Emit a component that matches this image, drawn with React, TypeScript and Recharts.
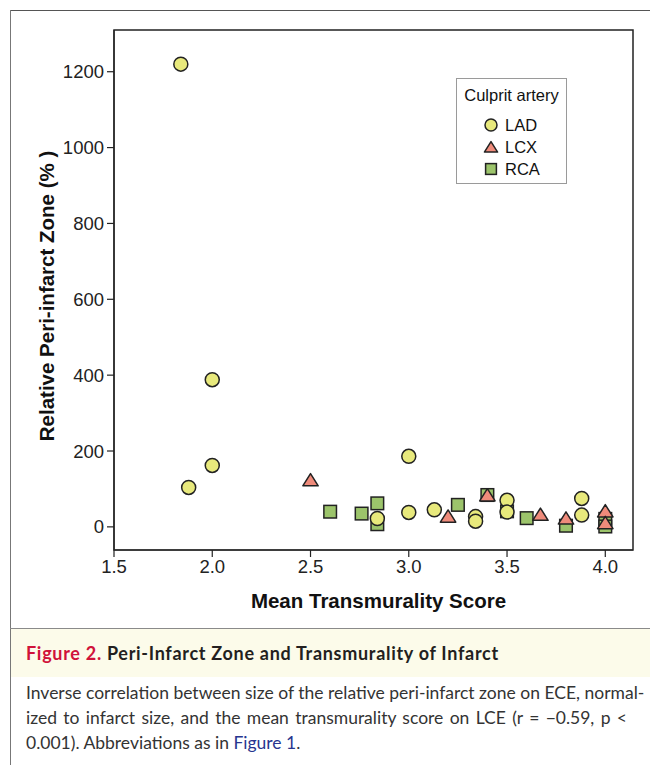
import React from "react"
import { ScatterChart, Scatter, XAxis, YAxis, ReferenceArea, Label } from "recharts"

// values
const ladX = [1.84, 2.0, 2.0, 1.88, 3.0, 3.0, 3.13, 2.84, 3.34, 3.34, 3.5, 3.5, 3.88, 3.88]
const ladY = [1220, 388, 162, 104, 186, 38, 45, 22, 27, 15, 70, 39, 75, 31]
const lcxX = [2.5, 3.2, 3.4, 3.67, 3.8, 4.0, 4.0]
const lcxY = [124, 28, 84, 33, 23, 42, 11]
const rcaX = [2.6, 2.76, 2.84, 2.84, 3.25, 3.4, 3.5, 3.6, 3.8, 4.0, 4.0]
const rcaY = [40, 35, 62, 7, 58, 84, 41, 23, 3, 21, 1]
const xTicks = [1.5, 2.0, 2.5, 3.0, 3.5, 4.0]
const yTicks = [0, 200, 400, 600, 800, 1000, 1200]
const groups = ["LAD", "LCX", "RCA"]

const COLORS: Record<string, string> = { LAD: "#e8e97c", LCX: "#ef8b7b", RCA: "#9cc46b" }
const STROKE = "#222"
const AXIS_FONT = "'Liberation Sans', Arial, Helvetica, sans-serif"
const CAPTION_FONT = "Lato, 'Open Sans', sans-serif"

const toPoints = (xs: number[], ys: number[]) => xs.map((x, i) => ({ x, y: ys[i] }))
const ladData = toPoints(ladX, ladY)
const lcxData = toPoints(lcxX, lcxY)
const rcaData = toPoints(rcaX, rcaY)

function Marker({ kind, cx, cy, size = 14 }: { kind: string; cx: number; cy: number; size?: number }) {
  const h = size / 2
  if (kind === "LAD") {
    return <circle cx={cx} cy={cy} r={h} fill={COLORS.LAD} stroke={STROKE} strokeWidth={1.5} />
  }
  if (kind === "LCX") {
    const w = h * 1.1
    return (
      <polygon
        points={`${cx},${cy - h * 0.9} ${cx + w},${cy + h * 0.85} ${cx - w},${cy + h * 0.85}`}
        fill={COLORS.LCX}
        stroke={STROKE}
        strokeWidth={1.5}
        strokeLinejoin="round"
      />
    )
  }
  const s = h * 0.9
  return <rect x={cx - s} y={cy - s} width={s * 2} height={s * 2} fill={COLORS.RCA} stroke={STROKE} strokeWidth={1.5} />
}

const shapeFor = (kind: string) => (props: any) => <Marker kind={kind} cx={props.cx} cy={props.cy} />

// legend drawn as an overlay so it does not shrink the plot area
const LegendBox = () => (
  <div
    style={{
      position: "absolute",
      left: 456,
      top: 78,
      border: "1px solid #9a9a9a",
      background: "#fff",
      width: 111,
      height: 106,
      boxSizing: "border-box",
      fontFamily: AXIS_FONT,
      fontSize: 16.5,
      color: "#111",
      paddingTop: 6,
    }}
  >
    <div style={{ textAlign: "center", lineHeight: "20px", marginBottom: 9 }}>Culprit artery</div>
    {groups.map((g) => (
      <div key={g} style={{ display: "flex", alignItems: "center", height: 22, paddingLeft: 26 }}>
        <svg width={16} height={16} style={{ marginRight: 6 }}>
          <Marker kind={g} cx={8} cy={8} size={12} />
        </svg>
        <span>{g}</span>
      </div>
    ))}
  </div>
)

const YTitle = (props: any) => {
  const { x, y, height } = props.viewBox
  const cx = x + 46
  const cy = y + height / 2 + 6
  return (
    <text
      x={cx}
      y={cy}
      transform={`rotate(-90, ${cx}, ${cy})`}
      textAnchor="middle"
      dominantBaseline="central"
      fontFamily={AXIS_FONT}
      fontWeight="bold"
      fontSize={20.5}
      fill="#111"
    >
      {"Relative Peri-infarct Zone (%\u00a0)"}
    </text>
  )
}

const XTitle = (props: any) => {
  const { x, y, width } = props.viewBox
  return (
    <text
      x={x + width / 2 + 5}
      y={y + 50}
      textAnchor="middle"
      dominantBaseline="central"
      fontFamily={AXIS_FONT}
      fontWeight="bold"
      fontSize={20.5}
      fill="#111"
    >
      Mean Transmurality Score
    </text>
  )
}

export default function App() {
  return (
    <div style={{ position: "absolute", left: 0, top: 0, width: 650, height: 765, background: "#fff", overflow: "hidden" }}>
      {/* page frame */}
      <div style={{ position: "absolute", left: 10, top: 10, width: 640, height: 1, background: "#555" }} />
      <div style={{ position: "absolute", left: 10, top: 10, width: 1, height: 755, background: "#777" }} />

      <div style={{ position: "absolute", left: 0, top: 0 }}>
        <ScatterChart width={650} height={628} margin={{ top: 30, right: 17, left: 0, bottom: 0 }}>
          <XAxis
            type="number"
            dataKey="x"
            domain={[1.5, 4.141]}
            ticks={xTicks}
            allowDataOverflow
            height={78}
            tickSize={7}
            tickMargin={3}
            tickFormatter={(v) => v.toFixed(1)}
            axisLine={{ stroke: STROKE, strokeWidth: 1.2 }}
            tickLine={{ stroke: STROKE, strokeWidth: 1.2 }}
            tick={{ fontSize: 18.5, fill: "#222", fontFamily: AXIS_FONT }}
          >
            <Label content={XTitle} />
          </XAxis>
          <YAxis
            type="number"
            dataKey="y"
            domain={[-61, 1310]}
            ticks={yTicks}
            allowDataOverflow
            width={114}
            tickSize={7}
            tickMargin={3}
            axisLine={{ stroke: STROKE, strokeWidth: 1.2 }}
            tickLine={{ stroke: STROKE, strokeWidth: 1.2 }}
            tick={{ fontSize: 18.5, fill: "#222", fontFamily: AXIS_FONT }}
          >
            <Label content={YTitle} />
          </YAxis>
          <ReferenceArea x1={1.5} x2={4.141} y1={-61} y2={1310} fill="none" stroke={STROKE} strokeWidth={1.5} />
          <Scatter name="RCA" data={rcaData} shape={shapeFor("RCA")} isAnimationActive={false} />
          <Scatter name="LAD" data={ladData} shape={shapeFor("LAD")} isAnimationActive={false} />
          <Scatter name="LCX" data={lcxData} shape={shapeFor("LCX")} isAnimationActive={false} />
        </ScatterChart>
        <LegendBox />
      </div>

      {/* caption */}
      <div style={{ position: "absolute", left: 10, top: 628, width: 640, height: 1, background: "#8a8a8a" }} />
      <div style={{ position: "absolute", left: 11, top: 629, width: 639, height: 48, background: "#fcfbea" }} />
      <div
        style={{
          position: "absolute",
          left: 26,
          top: 641,
          lineHeight: "24px",
          fontFamily: CAPTION_FONT,
          fontWeight: "bold",
          fontSize: 18,
          letterSpacing: 0.7,
          color: "#231f20",
          whiteSpace: "nowrap",
        }}
      >
        <span style={{ color: "#d0123a" }}>Figure 2.</span> Peri-Infarct Zone and Transmurality of Infarct
      </div>
      <div
        style={{
          position: "absolute",
          left: 26,
          top: 680,
          width: 601,
          lineHeight: "25px",
          fontFamily: CAPTION_FONT,
          fontSize: 17.5,
          color: "#333",
        }}
      >
        <div style={{ textAlign: "justify", textAlignLast: "justify", whiteSpace: "nowrap" }}>
          Inverse correlation between size of the relative peri-infarct zone on ECE, normal-
        </div>
        <div style={{ textAlign: "justify", textAlignLast: "justify" }}>
          ized to infarct size, and the mean transmurality score on LCE (r = −0.59, p &lt;
        </div>
        <div style={{ whiteSpace: "nowrap" }}>
          0.001). Abbreviations as in <span style={{ color: "#27358f" }}>Figure 1</span>.
        </div>
      </div>
    </div>
  )
}
